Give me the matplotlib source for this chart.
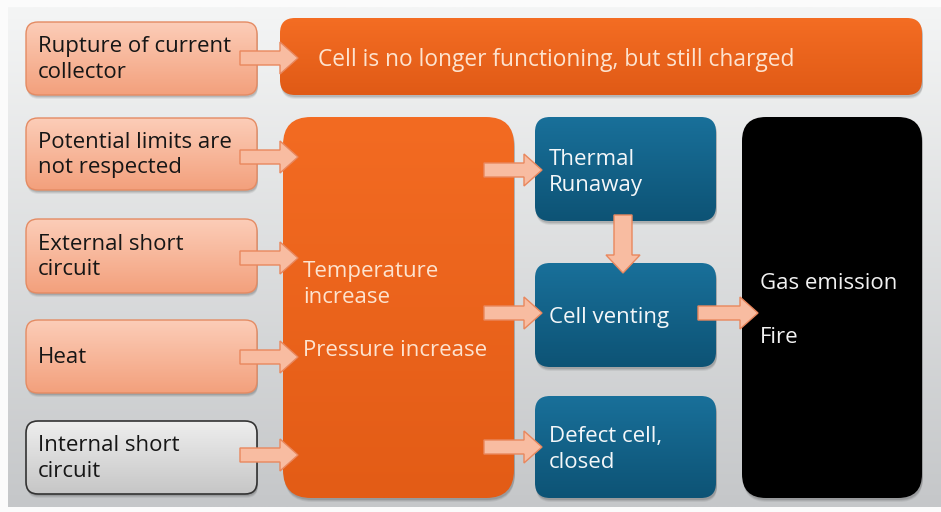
import numpy as np
import matplotlib
matplotlib.use("Agg")
import matplotlib.pyplot as plt
from matplotlib.patches import FancyBboxPatch, Polygon
from matplotlib.colors import to_rgb

plt.rcParams['font.family'] = ['Open Sans', 'DejaVu Sans']

# ---- content ----
cause_labels = ["Rupture of current\ncollector", "Potential limits are\nnot respected",
                "External short\ncircuit", "Heat", "Internal short\ncircuit"]
top_label = "Cell is no longer functioning, but still charged"
center_labels = ["Temperature\nincrease", "Pressure increase"]
outcome_labels = ["Thermal\nRunaway", "Cell venting", "Defect cell,\nclosed"]
final_labels = ["Gas emission", "Fire"]

W, H = 941, 512
fig = plt.figure(figsize=(W / 100, H / 100), dpi=100)
ax = fig.add_axes([0, 0, 1, 1])
ax.set_xlim(0, W)
ax.set_ylim(H, 0)
ax.axis('off')
fig.patch.set_facecolor('#fbfbfb')


def gradient_rect(x0, y0, x1, y1, c_top, c_bot, clip=None, z=1):
    n = 256
    t = np.linspace(0, 1, n)[:, None]
    a, b = np.array(to_rgb(c_top)), np.array(to_rgb(c_bot))
    img = (a[None, None, :] * (1 - t[..., None]) + b[None, None, :] * t[..., None])
    img = np.repeat(img, 2, axis=1)
    im = ax.imshow(img, extent=[x0, x1, y1, y0], origin='upper', zorder=z,
                   interpolation='bilinear')
    if clip is not None:
        im.set_clip_path(clip)
    return im


def box(x0, y0, x1, y1, r, c_top, c_bot, edge=None, lw=1.0, shadow=True):
    if shadow:
        for k, al in [(3, 0.06), (2, 0.08), (1, 0.10)]:
            s = FancyBboxPatch((x0 + 1, y0 + k + 1), x1 - x0, y1 - y0,
                               boxstyle=f"round,pad=0,rounding_size={r}",
                               fc='black', ec='none', alpha=al, zorder=1)
            ax.add_patch(s)
    p = FancyBboxPatch((x0, y0), x1 - x0, y1 - y0,
                       boxstyle=f"round,pad=0,rounding_size={r}",
                       fc='none', ec='none', zorder=2)
    ax.add_patch(p)
    gradient_rect(x0, y0, x1, y1, c_top, c_bot, clip=p, z=2)
    if edge is not None:
        e = FancyBboxPatch((x0, y0), x1 - x0, y1 - y0,
                           boxstyle=f"round,pad=0,rounding_size={r}",
                           fc='none', ec=edge, lw=lw, zorder=3)
        ax.add_patch(e)
    return p


def harrow(x0, x1, y, sh=7, hh=16, hl=18):
    pts = [(x0, y - sh), (x1 - hl, y - sh), (x1 - hl, y - hh), (x1, y),
           (x1 - hl, y + hh), (x1 - hl, y + sh), (x0, y + sh)]
    ax.add_patch(Polygon(pts, closed=True, fc='#f8bca1', ec='#e9875d', lw=1.0, zorder=5))


def varrow(x, y0, y1, sh=9, hh=17, hl=18):
    pts = [(x - sh, y0), (x - sh, y1 - hl), (x - hh, y1 - hl), (x, y1),
           (x + hh, y1 - hl), (x + sh, y1 - hl), (x + sh, y0)]
    ax.add_patch(Polygon(pts, closed=True, fc='#f8bca1', ec='#e9875d', lw=1.0, zorder=5))


# background
bg = FancyBboxPatch((8, 7), W - 8, H - 12, boxstyle="square,pad=0", fc='none', ec='none')
ax.add_patch(bg)
gradient_rect(8, 7, W, H - 5, '#f4f5f5', '#c5c7c9', clip=bg, z=0)

FS = 16
LS = 1.3
DY = 2.5

# left cause boxes
cause_y = [(22, 95), (118, 190), (219, 293), (320, 393), (421, 494)]
for i, (lab, (y0, y1)) in enumerate(zip(cause_labels, cause_y)):
    if i < 4:
        box(26, y0, 257, y1, 12, '#fccdb8', '#f3a07c', edge='#e48b63', lw=1.0)
    else:
        box(26, y0, 257, y1, 12, '#eeeeee', '#c6c6c6', edge='#333333', lw=1.2)
    ax.text(38, (y0 + y1) / 2 + 1, lab, fontsize=FS, color='#161616', va='center',
            ha='left', linespacing=LS, zorder=6)

# top orange bar
box(280, 18, 922, 95, 15, '#f46d23', '#e05a16')
ax.text(318, 57 + DY, top_label, fontsize=FS + 0.4, color='#fde3cf', va='center', ha='left', zorder=6)

# big orange
box(283, 117, 514, 498, 28, '#f36b22', '#e35c16')
ax.text(303, 282 + DY, center_labels[0], fontsize=FS, color='#fde3cf', va='center', ha='left',
        linespacing=LS, zorder=6)
ax.text(303, 348 + DY, center_labels[1], fontsize=FS, color='#fde3cf', va='center', ha='left', zorder=6)

# blue outcome boxes
blue_y = [(117, 221), (263, 367), (396, 498)]
blue_text_y = [170, 315, 447]
for lab, (y0, y1), ty in zip(outcome_labels, blue_y, blue_text_y):
    box(535, y0, 716, y1, 15, '#19709a', '#0d5375')
    ax.text(549, ty + DY, lab, fontsize=FS, color='#f4f7f9', va='center', ha='left',
            linespacing=LS, zorder=6)

# black final box
box(742, 117, 922, 498, 24, '#000000', '#000000')
ax.text(760, 281 + DY, final_labels[0], fontsize=FS, color='#f2f2f2', va='center', ha='left', zorder=6)
ax.text(760, 335 + DY, final_labels[1], fontsize=FS, color='#f2f2f2', va='center', ha='left', zorder=6)

# arrows
harrow(240, 298, 58)
for y in [157, 258, 357, 455]:
    harrow(240, 298, y)
for y in [170, 313, 447]:
    harrow(484, 542, y)
varrow(623, 215, 273)
harrow(698, 758, 313)

fig.savefig('out.png', dpi=100, facecolor=fig.get_facecolor())
